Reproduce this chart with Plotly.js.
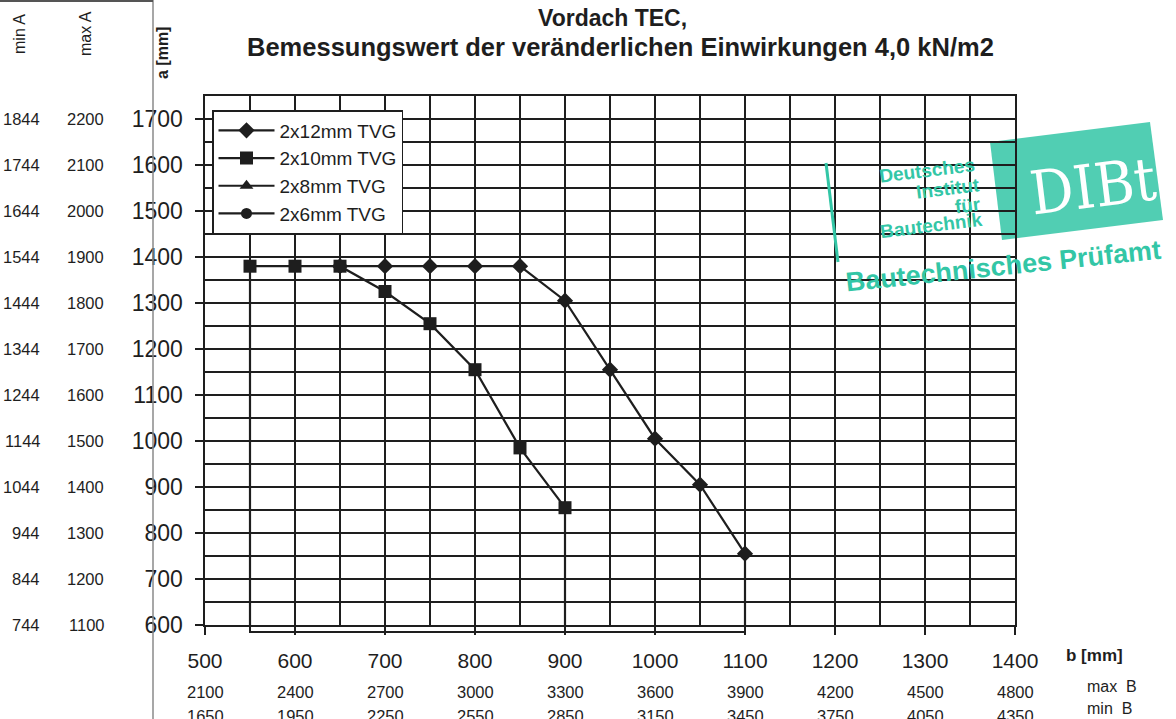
<!DOCTYPE html>
<html>
<head>
<meta charset="utf-8">
<script src="https://cdn.plot.ly/plotly-3.0.1.min.js"></script>
<style>html,body{margin:0;padding:0;background:#fff;}#chart{width:1176px;height:719px;}</style>
</head>
<body>
<div id="chart"></div>
<script>
// ---- data ----
const seriesNames = ["2x12mm TVG", "2x10mm TVG", "2x8mm TVG", "2x6mm TVG"];
const b12 = [650, 700, 750, 800, 850, 900, 950, 1000, 1050, 1100];
const a12 = [1380, 1380, 1380, 1380, 1380, 1305, 1155, 1005, 905, 755];
const b10 = [550, 600, 650, 700, 750, 800, 850, 900];
const a10 = [1380, 1380, 1380, 1325, 1255, 1155, 985, 855];
const b8 = [null];
const a8 = [null];
const b6 = [null];
const a6 = [null];
// outline frame drawn under the curves (vertical drops)
const frameB = [550, 550, null, 900, 900, null, 1100, 1100];
const frameA = [1380, 600, null, 855, 600, null, 755, 600];
const frameBottomB = [550, 1100];
// extra scales
const aTicks = [600, 700, 800, 900, 1000, 1100, 1200, 1300, 1400, 1500, 1600, 1700];
const minA = [744, 844, 944, 1044, 1144, 1244, 1344, 1444, 1544, 1644, 1744, 1844];
const maxA = [1100, 1200, 1300, 1400, 1500, 1600, 1700, 1800, 1900, 2000, 2100, 2200];
const bTicks = [500, 600, 700, 800, 900, 1000, 1100, 1200, 1300, 1400];
const maxB = [2100, 2400, 2700, 3000, 3300, 3600, 3900, 4200, 4500, 4800];
const minB = [1650, 1950, 2250, 2550, 2850, 3150, 3450, 3750, 4050, 4350];

const W = 1176, H = 719;
const px = v => v / W;
const py = v => 1 - v / H;
const ink = '#1e1e1e';
const teal = '#33c6a6';
const FONT = 'Liberation Sans, Arial, sans-serif';

const traces = [
  {x: frameB, y: frameA, mode: 'lines', line: {color: ink, width: 2.2}, showlegend: false, hoverinfo: 'skip'},
  {x: b12, y: a12, name: seriesNames[0], mode: 'lines+markers', legendgroup: 'g1',
   line: {color: ink, width: 2.2}, marker: {symbol: 'diamond', size: 12.5, color: ink}, cliponaxis: false},
  {x: b10, y: a10, name: seriesNames[1], mode: 'lines+markers', legendgroup: 'g2',
   line: {color: ink, width: 2.2}, marker: {symbol: 'square', size: 13, color: ink}, cliponaxis: false},
  {x: b8, y: a8, name: seriesNames[2], mode: 'lines+markers', legendgroup: 'g3',
   line: {color: ink, width: 2.2}, marker: {symbol: 'triangle-up', size: 12, color: ink}},
  {x: b6, y: a6, name: seriesNames[3], mode: 'lines+markers', legendgroup: 'g4',
   line: {color: ink, width: 2.2}, marker: {symbol: 'circle', size: 11, color: ink}}
];

function ann(o) {
  return Object.assign({xref: 'paper', yref: 'paper', xanchor: 'center', yanchor: 'middle', showarrow: false}, o);
}
const annotations = [];
aTicks.forEach((a, i) => {
  annotations.push(ann({yref: 'y', x: px(42), y: a, xanchor: 'right',
    text: String(minA[i]), font: {family: FONT, size: 16.5, color: ink}}));
  annotations.push(ann({yref: 'y', x: px(106), y: a, xanchor: 'right',
    text: String(maxA[i]), font: {family: FONT, size: 16.5, color: ink}}));
});
bTicks.forEach((b, i) => {
  annotations.push(ann({xref: 'x', x: b, y: py(692),
    text: String(maxB[i]), font: {family: FONT, size: 16.5, color: ink}}));
  annotations.push(ann({xref: 'x', x: b, y: py(716),
    text: String(minB[i]), font: {family: FONT, size: 16.5, color: ink}}));
});
annotations.push(
  ann({x: px(612), y: py(18), text: '<b>Vordach TEC,</b>', font: {family: FONT, size: 23, color: ink}}),
  ann({x: px(621), y: py(47), text: '<b>Bemessungswert der veränderlichen Einwirkungen 4,0 kN/m2</b>', font: {family: FONT, size: 25.5, color: ink}}),
  ann({x: px(19), y: py(34), text: 'min A', textangle: -90, font: {family: FONT, size: 16, color: ink}}),
  ann({x: px(85), y: py(34), text: 'max A', textangle: -90, font: {family: FONT, size: 16, color: ink}}),
  ann({x: px(163), y: py(53), text: '<b>a [mm]</b>', textangle: -90, font: {family: FONT, size: 16, color: ink}}),
  ann({x: px(1064), y: py(655), xanchor: 'left', text: '<b>b [mm]</b>', font: {family: FONT, size: 17, color: ink}}),
  ann({x: px(1085), y: py(686), xanchor: 'left', text: 'max  B', font: {family: FONT, size: 16, color: ink}}),
  ann({x: px(1085), y: py(708), xanchor: 'left', text: 'min  B', font: {family: FONT, size: 16, color: ink}}),
  // stamp
  ann({x: px(1093), y: py(186), text: 'DIBt', textangle: -7,
   font: {family: 'DejaVu Serif Condensed, Liberation Serif, serif', size: 60, color: '#ffffff'}}),
  ann({x: px(978), y: py(170), xanchor: 'right', text: '<b>Deutsches</b>', textangle: -7, font: {family: FONT, size: 19, color: teal}}),
  ann({x: px(983), y: py(189), xanchor: 'right', text: '<b>Institut</b>', textangle: -7, font: {family: FONT, size: 19, color: teal}}),
  ann({x: px(984), y: py(206), xanchor: 'right', text: '<b>für</b>', textangle: -7, font: {family: FONT, size: 19, color: teal}}),
  ann({x: px(986), y: py(226), xanchor: 'right', text: '<b>Bautechnik</b>', textangle: -7, font: {family: FONT, size: 19, color: teal}}),
  ann({x: px(1004), y: py(266), text: '<b>Bautechnisches Prüfamt</b>', textangle: -6, font: {family: FONT, size: 27, color: teal}})
);

const shapes = [
  {type: 'line', xref: 'paper', yref: 'paper', x0: px(153), x1: px(153), y0: 0, y1: 1, line: {color: '#8a8a8a', width: 1.5}},
  {type: 'line', xref: 'paper', yref: 'paper', x0: 0, x1: px(153), y0: py(1), y1: py(1), line: {color: '#555', width: 2}},
  {type: 'path', xref: 'paper', yref: 'paper',
   path: `M ${px(990)} ${py(142)} L ${px(1150)} ${py(122)} L ${px(1163)} ${py(220)} L ${px(1002)} ${py(240)} Z`,
   fillcolor: 'rgba(51,198,166,0.85)', line: {width: 0}, layer: 'below'},
  {type: 'line', xref: 'paper', yref: 'paper', x0: px(826), x1: px(838), y0: py(163), y1: py(262), line: {color: teal, width: 3}},
  // bottom of the outline frame, just below the axis
  {type: 'path', xref: 'x', yref: 'paper',
   path: `M ${frameBottomB[0]} ${py(625)} L ${frameBottomB[0]} ${py(632)} L ${frameBottomB[1]} ${py(632)} L ${frameBottomB[1]} ${py(625)}`,
   line: {color: ink, width: 2}, layer: 'above'}
];

const axisCommon = {
  showline: true, linecolor: ink, linewidth: 1.6, mirror: true,
  showgrid: true, gridcolor: ink, gridwidth: 1.6,
  ticks: 'outside', ticklen: 8, tickwidth: 1.6, tickcolor: ink,
  dtick: 100, zeroline: false, fixedrange: true,
  minor: {dtick: 50, showgrid: true, gridcolor: ink, gridwidth: 1.6, ticks: ''}
};

const layout = {
  width: W, height: H,
  margin: {l: 0, r: 0, t: 0, b: 0},
  paper_bgcolor: '#ffffff', plot_bgcolor: 'rgba(0,0,0,0)',
  font: {family: FONT, color: ink},
  xaxis: Object.assign({}, axisCommon, {range: [500, 1400], domain: [px(205), px(1015)],
          tick0: 500, tickfont: {family: FONT, size: 21, color: ink}, ticklabelstandoff: 8}),
  yaxis: Object.assign({}, axisCommon, {range: [600, 1750], domain: [py(625), py(96)],
          tick0: 600, tickvals: aTicks, tickfont: {family: FONT, size: 23, color: ink}, ticklabelstandoff: 8}),
  showlegend: true,
  legend: {x: px(212), y: py(110), xanchor: 'left', yanchor: 'top', bgcolor: '#ffffff',
           bordercolor: ink, borderwidth: 1.5, font: {family: FONT, size: 19, color: ink},
           traceorder: 'grouped', tracegroupgap: 0, itemwidth: 56},
  annotations: annotations,
  shapes: shapes
};

Plotly.newPlot('chart', traces, layout, {staticPlot: true});
</script>
</body>
</html>
